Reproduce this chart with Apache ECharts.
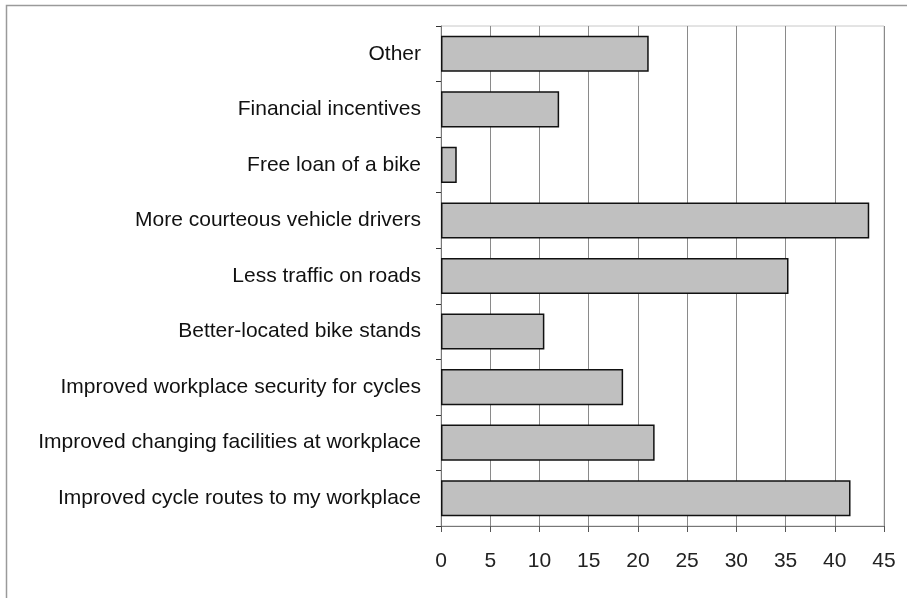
<!DOCTYPE html>
<html>
<head>
<meta charset="utf-8">
<script src="https://cdn.jsdelivr.net/npm/echarts@6/dist/echarts.min.js"></script>
<style>
  html, body { margin: 0; padding: 0; background: #fff; }
  #chart { width: 907px; height: 598px; }
</style>
</head>
<body>
<div id="chart"></div>
<script>
// top to bottom
var categories = [
    'Other',
    'Financial incentives',
    'Free loan of a bike',
    'More courteous vehicle drivers',
    'Less traffic on roads',
    'Better-located bike stands',
    'Improved workplace security for cycles',
    'Improved changing facilities at workplace',
    'Improved cycle routes to my workplace'
];
var values = [21.1, 12.0, 1.6, 43.5, 35.3, 10.5, 18.5, 21.7, 41.6];

window.onload = function () {
    var chart = echarts.init(document.getElementById('chart'));

    var option = {
        animation: false,
        backgroundColor: '#fff',
        graphic: [{
            type: 'rect',
            shape: { x: 6.5, y: 5.5, width: 920, height: 620 },
            style: { fill: 'none', stroke: '#9a9a9a', lineWidth: 1.5 },
            silent: true
        }],
        grid: {
            left: 441, right: 23, top: 26, bottom: 72,
            show: true,
            borderColor: '#c8c8c8',
            borderWidth: 1
        },
        xAxis: {
            type: 'value',
            min: 0, max: 45, interval: 5,
            axisLine: { show: true, lineStyle: { color: '#777', width: 1 } },
            axisTick: { show: true, length: 6, lineStyle: { color: '#555' } },
            axisLabel: {
                margin: 25,
                fontFamily: 'Liberation Sans, Arial, sans-serif',
                fontSize: 21,
                color: '#222'
            },
            splitLine: { show: true, lineStyle: { color: '#8a8a8a', width: 1 } }
        },
        yAxis: {
            type: 'category',
            data: categories,
            inverse: true,
            axisLine: { show: true, lineStyle: { color: '#777', width: 1 } },
            axisTick: { show: true, length: 5, lineStyle: { color: '#333' } },
            axisLabel: {
                margin: 20,
                fontFamily: 'Liberation Sans, Arial, sans-serif',
                fontSize: 21,
                color: '#111'
            }
        },
        series: [{
            type: 'bar',
            data: values,
            barCategoryGap: '35%',
            itemStyle: {
                color: '#c0c0c0',
                borderColor: '#111',
                borderWidth: 1.5
            }
        }]
    };

    chart.setOption(option);
}
</script>
</body>
</html>
